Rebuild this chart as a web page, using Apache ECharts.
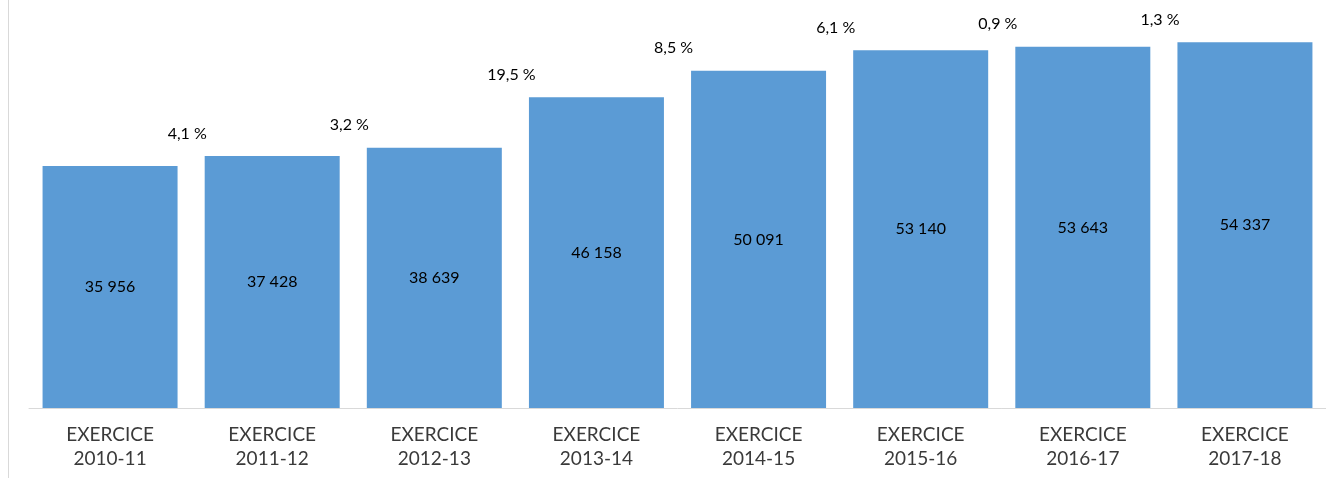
<!DOCTYPE html>
<html>
<head>
<meta charset="utf-8">
<script src="https://cdn.jsdelivr.net/npm/echarts@6/dist/echarts.min.js"></script>
<style>
  html, body { margin: 0; padding: 0; background: #fff; }
  #chart { width: 1326px; height: 478px; }
</style>
</head>
<body>
<div id="chart"></div>
<script>
var categories = ['EXERCICE\n2010-11', 'EXERCICE\n2011-12', 'EXERCICE\n2012-13', 'EXERCICE\n2013-14',
  'EXERCICE\n2014-15', 'EXERCICE\n2015-16', 'EXERCICE\n2016-17', 'EXERCICE\n2017-18'];
var amounts = [35956, 37428, 38639, 46158, 50091, 53140, 53643, 54337];
var growth = [null, '4,1 %', '3,2 %', '19,5 %', '8,5 %', '6,1 %', '0,9 %', '1,3 %'];

function fmtThousands(v) {
  return String(v).replace(/\B(?=(\d{3})+(?!\d))/g, ' ');
}

var chart = echarts.init(document.getElementById('chart'));
chart.setOption({
  animation: false,
  textStyle: { fontFamily: 'Lato' },
  grid: { left: 29, top: 4, width: 1302, bottom: 70 },
  graphic: [{
    type: 'line',
    shape: { x1: 8.5, y1: 0, x2: 8.5, y2: 478 },
    style: { stroke: '#d9d9d9', lineWidth: 1 }
  }],
  xAxis: {
    type: 'category',
    data: categories,
    axisTick: { show: false },
    axisLine: { lineStyle: { color: '#d9d9d9', width: 1 } },
    axisLabel: {
      color: '#3a3a3a',
      fontSize: 19,
      lineHeight: 24,
      margin: 15
    }
  },
  yAxis: {
    type: 'value',
    min: 0,
    max: 60000,
    show: false,
    splitLine: { show: false }
  },
  series: [{
    type: 'bar',
    data: amounts,
    barWidth: 135,
    itemStyle: { color: '#5b9bd5' },
    label: {
      show: true,
      position: 'inside',
      color: '#000',
      fontSize: 16,
      formatter: function (p) { return fmtThousands(p.value); }
    }
  }, {
    type: 'line',
    data: amounts,
    symbol: 'circle',
    symbolSize: 1,
    showSymbol: true,
    itemStyle: { color: 'rgba(0,0,0,0)' },
    lineStyle: { opacity: 0 },
    silent: true,
    z: 5,
    label: {
      show: true,
      position: 'top',
      distance: 14,
      offset: [-85, 0],
      color: '#000',
      fontSize: 16,
      formatter: function (p) { return growth[p.dataIndex] || ''; }
    }
  }]
});
</script>
</body>
</html>
